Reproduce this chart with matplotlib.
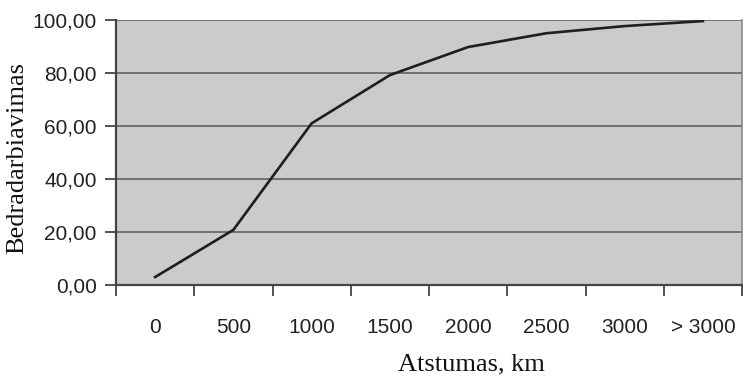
import matplotlib
matplotlib.use("Agg")
import matplotlib.pyplot as plt
import numpy as np

categories = ["0", "500", "1000", "1500", "2000", "2500", "3000", "> 3000"]
values = [3.0, 20.8, 61.0, 79.2, 89.8, 95.0, 97.7, 99.6]
yticks = [0, 20, 40, 60, 80, 100]
ytick_labels = ["0,00", "20,00", "40,00", "60,00", "80,00", "100,00"]

fig = plt.figure(figsize=(7.43, 3.76), dpi=100)
ax = fig.add_axes([116/743, 1-285/376, 626/743, 265/376])
ax.set_facecolor("#cbcbcb")

x = np.arange(len(categories))
ax.plot(x, values, color="#1e1e1e", lw=1.9, solid_joinstyle="round", zorder=3)

ax.set_xlim(-0.5, len(categories) - 0.5)
ax.set_ylim(0, 100)
ax.set_yticks(yticks)
ax.set_yticklabels(ytick_labels, fontfamily="Liberation Sans", fontsize=15, color="#222222")
ax.set_xticks(x)
ax.set_xticklabels(categories, fontfamily="Liberation Sans", fontsize=15, color="#222222")
ax.set_xticks(np.arange(len(categories) + 1) - 0.5, minor=True)
ax.tick_params(axis="x", which="major", length=0, pad=24)
ax.tick_params(axis="x", which="minor", length=8, width=1.3, color="#444444", direction="out")
ax.tick_params(axis="y", length=8, width=1.3, color="#444444", direction="out", pad=6)

for v in yticks[1:]:
    ax.axhline(v, color="#707070", lw=1.4, zorder=1)

for s in ["left", "bottom"]:
    ax.spines[s].set_color("#444444")
    ax.spines[s].set_linewidth(1.6)
ax.spines["top"].set_visible(False)
ax.spines["right"].set_color("#888888")
ax.spines["right"].set_linewidth(1.2)

ax.set_xlabel("Atstumas, km", fontfamily="Liberation Serif", fontsize=19, color="#111111")
ax.xaxis.set_label_coords((471-116)/626, -(364-285)/265, transform=ax.transAxes)
ax.xaxis.label.set_va("center")
ax.set_ylabel("Bedradarbiavimas", fontfamily="Liberation Serif", fontsize=19, color="#111111")
ax.yaxis.set_label_coords(-(116-17)/626, (285-158)/265, transform=ax.transAxes)
ax.yaxis.label.set_va("center")

fig.savefig("out.png", dpi=100)
